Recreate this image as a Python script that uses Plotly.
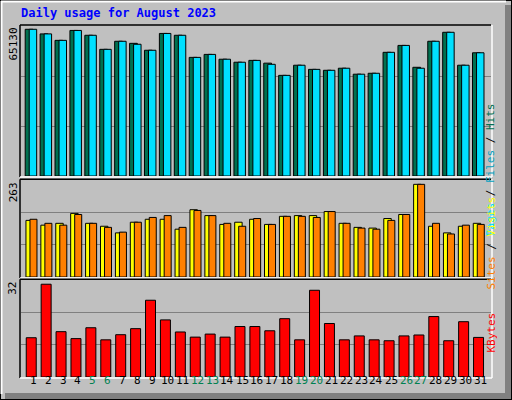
import plotly.graph_objects as go

days = [str(d) for d in range(1, 32)]
weekend = {5, 6, 12, 13, 19, 20, 26, 27}
hits = [63700, 61700, 58900, 63200, 61100, 55000, 58500, 57600, 54600, 61900, 61100, 51500, 52800, 50700,
        49400, 50200, 49000, 43700, 48100, 46300, 45900, 46800, 44200, 44600, 53700, 56700, 47200, 58500, 62400, 48100, 53500]
files = [63700, 61700, 58900, 63200, 61100, 55000, 58500, 57200, 54600, 61900, 61100, 51500, 52800, 50700,
         49400, 50200, 48500, 43700, 48100, 46300, 45900, 46800, 44200, 44600, 53700, 56700, 46800, 58500, 62400, 48100, 53500]
visits = [154, 141, 146, 173, 146, 138, 120, 149, 157, 157, 130, 183, 167, 143, 149, 157, 143, 165, 167, 167, 178, 146, 135, 133, 159, 170, 252, 138, 120, 138, 146]
sites = [157, 146, 141, 170, 146, 135, 122, 149, 162, 167, 135, 181, 167, 146, 138, 159, 143, 165, 165, 162, 178, 146, 133, 130, 154, 170, 252, 146, 117, 141, 143]
kbytes = [13.0, 30.7, 15.0, 12.7, 16.3, 12.3, 14.0, 16.0, 25.4, 18.9, 14.9, 13.2, 14.2, 13.2, 16.7,
          16.7, 15.3, 19.3, 12.3, 28.7, 17.7, 12.3, 13.6, 12.3, 12.0, 13.6, 13.9, 20.0, 12.0, 18.3, 13.1]
max_top, max_mid, max_bot = 65130, 263, 32

W, H = 512, 400
def py(p): return 1 - p / H
def px(p): return p / W

fig = go.Figure()
xd = [px(20.5), px(491)]
xr = [0.145, 31.7]
panels = [("y", 26, 176, max_top), ("y2", 180.3, 277, max_mid), ("y3", 280.3, 377, max_bot)]

X = list(range(1, 32))
fig.add_trace(go.Bar(x=X, y=hits, width=0.52, offset=-0.54, marker=dict(color="#007050", line=dict(color="black", width=1)), xaxis="x", yaxis="y"))
fig.add_trace(go.Bar(x=X, y=files, width=0.5, offset=-0.27, marker=dict(color="#00E0FF", line=dict(color="black", width=1)), xaxis="x", yaxis="y"))
fig.add_trace(go.Bar(x=X, y=visits, width=0.5, offset=-0.49, marker=dict(color="#FFFF00", line=dict(color="black", width=1)), xaxis="x2", yaxis="y2"))
fig.add_trace(go.Bar(x=X, y=sites, width=0.47, offset=-0.22, marker=dict(color="#FF8000", line=dict(color="black", width=1)), xaxis="x2", yaxis="y2"))
fig.add_trace(go.Bar(x=X, y=kbytes, width=0.67, offset=-0.47, marker=dict(color="#FF0000", line=dict(color="black", width=1)), xaxis="x3", yaxis="y3"))

mono = "DejaVu Sans Mono"
lay = dict(width=W, height=H, margin=dict(l=0, r=0, t=0, b=0, pad=0), paper_bgcolor="#C0C0C0", plot_bgcolor="#C0C0C0",
           showlegend=False, barmode="overlay", font=dict(family=mono))
for i, (ya, top, bot, mx) in enumerate(panels):
    n = "" if i == 0 else str(i + 1)
    lay["xaxis" + n] = dict(domain=xd, range=xr, anchor="y" + n, showticklabels=False, showgrid=False, zeroline=False, fixedrange=True)
    lay["yaxis" + n] = dict(domain=[py(bot), py(top)], range=[0, mx], anchor="x" + n, showticklabels=False,
                            tickvals=[mx / 3, 2 * mx / 3], gridcolor="#808080", gridwidth=1, zeroline=False)
fig.update_layout(**lay)

shapes = [
    dict(type="rect", xref="paper", yref="paper", x0=0, x1=1, y0=0, y1=1, line=dict(color="black", width=2), layer="below"),
    dict(type="line", xref="paper", yref="paper", x0=px(1), x1=px(506), y0=py(1.5), y1=py(1.5), line=dict(color="white", width=2)),
    dict(type="line", xref="paper", yref="paper", x0=px(1.5), x1=px(1.5), y0=py(1), y1=py(394), line=dict(color="white", width=2)),
    dict(type="rect", xref="paper", yref="paper", x0=px(505), x1=px(511), y0=py(393), y1=py(5), fillcolor="#808080", line=dict(width=0)),
    dict(type="rect", xref="paper", yref="paper", x0=px(5), x1=px(511), y0=py(399), y1=py(393), fillcolor="#808080", line=dict(width=0)),
]
for (ya, top, bot, mx) in panels:
    shapes += [
        dict(type="line", xref="paper", yref="paper", x0=px(20), x1=px(491), y0=py(top - 1), y1=py(top - 1), line=dict(color="black", width=1.5)),
        dict(type="line", xref="paper", yref="paper", x0=px(20), x1=px(20), y0=py(top - 1), y1=py(bot + 1), line=dict(color="black", width=1.5)),
        dict(type="line", xref="paper", yref="paper", x0=px(20), x1=px(492), y0=py(bot + 1), y1=py(bot + 1), line=dict(color="white", width=1.5)),
        dict(type="line", xref="paper", yref="paper", x0=px(492), x1=px(492), y0=py(top - 1), y1=py(bot + 1), line=dict(color="white", width=1.5)),
    ]
fig.update_layout(shapes=shapes)

ann = [dict(text="<b>Daily usage for August 2023</b>", x=px(19), y=py(13), xref="paper", yref="paper", xanchor="left", yanchor="middle",
            showarrow=False, font=dict(family=mono, size=12, color="#0000FF"))]
for (ya, top, bot, mx), lbl in zip(panels, ["65130", "263", "32"]):
    ann.append(dict(text=lbl, x=px(13), y=py(top), xref="paper", yref="paper", textangle=-90, xanchor="center", yanchor="top",
                    showarrow=False, font=dict(family=mono, size=11, color="black")))
ann.append(dict(text='<span style="color:#00E0FF">Pages</span><span style="color:black"> / </span><span style="color:#00A0C0">Files</span><span style="color:black"> / </span><span style="color:#007050">Hits</span>',
                x=px(499), y=py(101), xref="paper", yref="paper", textangle=-90, showarrow=False, font=dict(family=mono, size=11)))
ann.append(dict(text='<span style="color:#FF8000">Sites</span><span style="color:black"> / </span><span style="color:#FFFF00">Visits</span>',
                x=px(499), y=py(243), xref="paper", yref="paper", textangle=-90, showarrow=False, font=dict(family=mono, size=11)))
ann.append(dict(text='<span style="color:#FF0000">KBytes</span>',
                x=px(499), y=py(355), xref="paper", yref="paper", textangle=-90, showarrow=False, font=dict(family=mono, size=11)))
for i, d in enumerate(days):
    ann.append(dict(text=d, x=i + 1, y=py(389), xref="x3", yref="paper", showarrow=False,
                    font=dict(family=mono, size=11, color="#008050" if (i + 1) in weekend else "black")))
fig.update_layout(annotations=ann)
fig.write_html("out.html", config={"displayModeBar": False},
               post_script="document.body.style.margin='0';document.body.style.overflow='hidden';")
